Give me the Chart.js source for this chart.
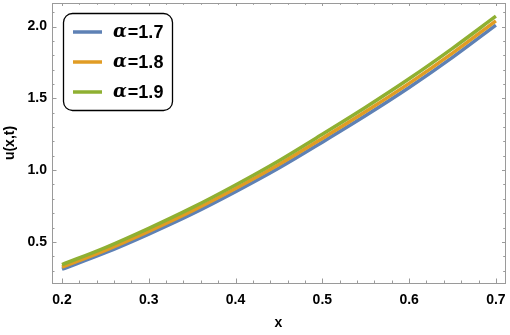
<!DOCTYPE html>
<html>
<head>
<meta charset="utf-8">
<script src="https://cdn.jsdelivr.net/npm/chart.js@4.4.1/dist/chart.umd.min.js"></script>
<style>
  html, body { margin: 0; padding: 0; background: #fff; }
  #wrap { width: 510px; height: 335px; }
</style>
</head>
<body>
<div id="wrap"><canvas id="chart" width="510" height="335"></canvas></div>
<script>
// data
const xValues = [0.2, 0.25, 0.3, 0.35, 0.4, 0.45, 0.5, 0.55, 0.6, 0.65, 0.7];
const alpha17 = [0.310, 0.425, 0.555, 0.695, 0.850, 1.015, 1.195, 1.380, 1.575, 1.785, 2.010];
const alpha18 = [0.325, 0.442, 0.574, 0.716, 0.872, 1.039, 1.221, 1.408, 1.604, 1.815, 2.040];
const alpha19 = [0.342, 0.461, 0.595, 0.739, 0.897, 1.066, 1.250, 1.438, 1.636, 1.848, 2.072];
const seriesLabels = ['1.7', '1.8', '1.9'];
const xTicks = [0.2, 0.3, 0.4, 0.5, 0.6, 0.7];
const yTicks = [0.5, 1.0, 1.5, 2.0];
const xMinor = [0.22, 0.24, 0.26, 0.28, 0.32, 0.34, 0.36, 0.38, 0.42, 0.44, 0.46, 0.48,
                0.52, 0.54, 0.56, 0.58, 0.62, 0.64, 0.66, 0.68];
const yMinor = [0.3, 0.4, 0.6, 0.7, 0.8, 0.9, 1.1, 1.2, 1.3, 1.4, 1.6, 1.7, 1.8, 1.9, 2.1];

const colors = ['#5e81b5', '#e19c24', '#8fb032'];
const frameColor = '#9a9a9a';
const fontFamily = '"Liberation Sans", Arial, sans-serif';

function pts(ys) { return xValues.map((x, i) => ({ x: x, y: ys[i] })); }

// frame + inward ticks, Mathematica style
const frameTicks = {
    id: 'frameTicks',
    afterDatasetsDraw(chart) {
        const { ctx, chartArea: a, scales: { x, y } } = chart;
        ctx.save();
        ctx.strokeStyle = frameColor;
        ctx.lineWidth = 1;
        ctx.beginPath();
        const tick = (px, len, side) => {
            if (side === 'b') { ctx.moveTo(px, a.bottom); ctx.lineTo(px, a.bottom - len); }
            if (side === 't') { ctx.moveTo(px, a.top); ctx.lineTo(px, a.top + len); }
        };
        const tickY = (py, len, side) => {
            if (side === 'l') { ctx.moveTo(a.left, py); ctx.lineTo(a.left + len, py); }
            if (side === 'r') { ctx.moveTo(a.right, py); ctx.lineTo(a.right - len, py); }
        };
        xTicks.forEach(v => { const p = Math.round(x.getPixelForValue(v)) + 0.5; tick(p, 4.5, 'b'); tick(p, 3, 't'); });
        xMinor.forEach(v => { const p = Math.round(x.getPixelForValue(v)) + 0.5; tick(p, 2.5, 'b'); tick(p, 1.8, 't'); });
        yTicks.forEach(v => { const p = Math.round(y.getPixelForValue(v)) + 0.5; tickY(p, 4.5, 'l'); tickY(p, 3, 'r'); });
        yMinor.forEach(v => { const p = Math.round(y.getPixelForValue(v)) + 0.5; tickY(p, 2.5, 'l'); tickY(p, 1.8, 'r'); });
        ctx.stroke();
        ctx.strokeRect(Math.round(a.left) + 0.5, Math.round(a.top) + 0.5,
                       Math.round(a.right - a.left), Math.round(a.bottom - a.top));
        ctx.restore();
    }
};

// boxed legend with rounded corners
const boxLegend = {
    id: 'boxLegend',
    afterDraw(chart) {
        const ctx = chart.ctx;
        const bx = 63, by = 13, bw = 109, bh = 97, r = 9;
        ctx.save();
        ctx.fillStyle = '#fff';
        ctx.strokeStyle = '#000';
        ctx.lineWidth = 1.3;
        ctx.beginPath();
        ctx.roundRect(bx + 0.5, by + 0.5, bw, bh, r);
        ctx.fill();
        ctx.stroke();
        chart.data.datasets.forEach((ds, i) => {
            const yy = 32 + i * 30;
            ctx.strokeStyle = ds.borderColor;
            ctx.lineWidth = 3.5;
            ctx.beginPath();
            ctx.moveTo(73, yy);
            ctx.lineTo(102, yy);
            ctx.stroke();
            ctx.fillStyle = '#000';
            ctx.textBaseline = 'middle';
            ctx.font = 'italic bold 18px "DejaVu Serif", serif';
            ctx.fillText('\u03b1', 113, yy);
            const w = ctx.measureText('\u03b1').width;
            ctx.font = 'bold 18px ' + fontFamily;
            ctx.fillText('=' + seriesLabels[i], 113 + w + 1, yy + 1);
        });
        ctx.restore();
    }
};

const chart = new Chart(document.getElementById('chart'), {
    type: 'line',
    data: {
        datasets: [
            { label: '\u03b1=' + seriesLabels[0], data: pts(alpha17), borderColor: colors[0], order: 3 },
            { label: '\u03b1=' + seriesLabels[1], data: pts(alpha18), borderColor: colors[1], order: 2 },
            { label: '\u03b1=' + seriesLabels[2], data: pts(alpha19), borderColor: colors[2], order: 1 }
        ]
    },
    options: {
        responsive: false,
        animation: false,
        layout: { padding: { top: 3, right: 5, left: 0, bottom: 0 } },
        elements: {
            point: { radius: 0 },
            line: { borderWidth: 3.5, tension: 0.4, cubicInterpolationMode: 'monotone', fill: false }
        },
        plugins: { legend: { display: false }, tooltip: { enabled: false } },
        scales: {
            x: {
                type: 'linear', min: 0.1885, max: 0.7105,
                grid: { display: false, drawTicks: false },
                border: { display: false },
                afterBuildTicks: s => { s.ticks = xTicks.map(v => ({ value: v })); },
                afterFit: s => { s.height = 52; s.paddingLeft = 0; s.paddingRight = 0; },
                ticks: {
                    padding: 9, color: '#000',
                    font: { family: fontFamily, size: 14, weight: 'bold' },
                    callback: v => v.toFixed(1)
                },
                title: {
                    display: true, text: 'x', color: '#000',
                    padding: { top: 0, bottom: 3 },
                    font: { family: fontFamily, size: 14, weight: 'bold' }
                }
            },
            y: {
                type: 'linear', min: 0.214, max: 2.164,
                grid: { display: false, drawTicks: false },
                border: { display: false },
                afterBuildTicks: s => { s.ticks = yTicks.map(v => ({ value: v })); },
                afterFit: s => { s.width = 52; s.paddingTop = 0; s.paddingBottom = 0; },
                ticks: {
                    padding: 5, color: '#000',
                    font: { family: fontFamily, size: 14, weight: 'bold' },
                    callback: v => v.toFixed(1)
                },
                title: {
                    display: true, text: 'u(x,t)', color: '#000',
                    padding: { top: 2, bottom: 0 },
                    font: { family: fontFamily, size: 14, weight: 'bold' }
                }
            }
        }
    },
    plugins: [frameTicks, boxLegend]
});
</script>
</body>
</html>
